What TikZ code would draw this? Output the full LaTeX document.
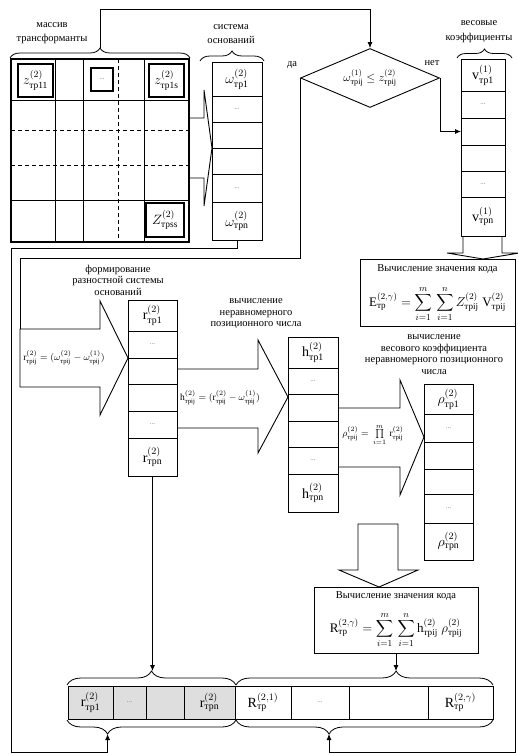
\RequirePackage{fix-cm}
\documentclass[tikz,border=0pt]{standalone}
\usepackage{amsmath}
\usepackage{fontspec}
\setmainfont{Liberation Serif}
\usetikzlibrary{arrows.meta,shapes.geometric,decorations.pathreplacing}
\newcommand\trs[1]{\text{тр#1}}
\newcommand\cdd{\textcolor{black!55}{\fontsize{7}{7}\selectfont...}}
\newcommand\cellnode[7][]{\node[cellbox,#1,minimum width={(#5-#3)*1pt},minimum height={(#6-#4)*1pt}] (#2) at ({(#3+#5)/2},{(#4+#6)/2}) {#7};}
\begin{document}
\begin{tikzpicture}[x=1pt,y=-1pt,line width=0.8pt,
  cellbox/.style={draw,inner sep=0pt,outer sep=0pt,line width=0.9pt,font=\fontsize{14}{14}\selectfont},
  smallbox/.style={draw,inner sep=0pt,line width=1.3pt,font=\fontsize{13.5}{13.5}\selectfont},
  lbl/.style={align=center,inner sep=0pt,font=\fontsize{10.5}{11.5}\selectfont},
  toplbl/.style={align=center,inner sep=0pt,font=\fontsize{10.5}{14.5}\selectfont},
  arr/.style={-{Latex[length=6pt,width=5pt]}},
  blockarrow/.style={draw,line width=0.9pt,line join=miter},
  brc/.style={decorate,decoration={brace,amplitude=#1}},
  mbrc/.style 2 args={decorate,decoration={brace,mirror,amplitude=#1,aspect=#2}},
  abrc/.style 2 args={decorate,decoration={brace,amplitude=#1,aspect=#2}},
  frm/.style={inner sep=0pt,font=\fontsize{9.5}{10}\selectfont},
  boxfrm/.style={inner sep=0pt,font=\fontsize{13}{13}\selectfont},
  gridline/.style={line width=0.8pt},
  griddash/.style={line width=0.8pt,dash pattern=on 4pt off 3pt},
]
\useasboundingbox (0,0) rectangle (517,754);

% ---------- grid (массив трансформанты)
\foreach \x in {55,83,144} \draw[gridline] (\x,59) -- (\x,242);
\draw[griddash] (118,59) -- (118,242);
\foreach \y in {100,200} \draw[gridline] (11,\y) -- (189,\y);
\foreach \y in {130,165} \draw[griddash] (11,\y) -- (189,\y);
\node[draw,line width=2.6pt,minimum width=178pt,minimum height=183pt,inner sep=0pt] (grid) at (100,150.5) {};
\node[smallbox,minimum width=35pt,minimum height=33pt] (z11) at (35.5,80.5) {$z^{(2)}_{\trs{11}}$};
\node[smallbox,minimum width=22pt,minimum height=23pt] (zdots) at (102,79.5) {\cdd};
\node[smallbox,minimum width=35pt,minimum height=33pt] (z1s) at (166.5,80.5) {$z^{(2)}_{\trs{1s}}$};
\node[smallbox,minimum width=38pt,minimum height=34pt] (zss) at (165,220) {$Z^{(2)}_{\trs{ss}}$};

\node[toplbl] (lmass) at (52,33) {массив\\трансформанты};
\node[toplbl] (lsys) at (231,34) {система\\оснований};
\node[toplbl] (lves) at (479,31.5) {весовые\\коэффициенты};

\draw[brc=10] (10,58) -- (190,58);
\coordinate (gtip) at (100,48);
\draw[brc=10] (200,61) -- (264,61);
\draw[brc=9] (457,58) -- (512,58);

% ---------- omega column
\cellnode{om1}{212}{62}{262}{96}{$\omega^{(2)}_{\trs{1}}$}
\cellnode{om2}{212}{96}{262}{122}{\cdd}
\cellnode{om3}{212}{122}{262}{148}{}
\cellnode{om4}{212}{148}{262}{174}{}
\cellnode{om5}{212}{174}{262}{202}{\cdd}
\cellnode{om6}{212}{202}{262}{240}{$\omega^{(2)}_{\trs{n}}$}

% block arrow grid -> omega
\draw[blockarrow] (189,118) -- (204,118) -- (204,90) -- (212,148) -- (204,206) -- (204,178) -- (189,178);

% ---------- diamond
\node[draw,diamond,aspect=2.3,minimum width=139pt,minimum height=59pt,inner sep=0pt,line width=0.9pt,font=\fontsize{11.5}{11.5}\selectfont] (dia) at (370,78) {$\omega^{(1)}_{\trs{ij}}\le z^{(2)}_{\trs{ij}}$};
\node[lbl] (da) at (292,65) {да};
\node[lbl] (net) at (432,63) {нет};

% ---------- V column
\cellnode{v1}{461}{59}{505}{91}{$\mathrm{v}^{(1)}_{\trs{1}}$}
\cellnode{v2}{461}{91}{505}{118}{\cdd}
\cellnode{v3}{461}{118}{505}{145}{}
\cellnode{v4}{461}{145}{505}{171}{}
\cellnode{v5}{461}{171}{505}{197}{\cdd}
\cellnode{v6}{461}{197}{505}{236}{$\mathrm{v}^{(1)}_{\trs{n}}$}

% block arrow V -> E box
\draw[blockarrow] (463,236) -- (463,253) -- (447,253) -- (483,259) -- (519,253) -- (502,253) -- (502,236);

% ---------- E box
\node[draw,minimum width=155pt,minimum height=67pt,inner sep=0pt,line width=0.9pt] (Ebox) at (437.5,292.5) {};
\node[lbl] (Etit) at (437.5,269) {Вычисление значения кода};
\node[boxfrm] (Efrm) at (437.5,304) {$\mathrm{E}^{(2,\gamma)}_{\trs{}} = \displaystyle\sum_{i=1}^{m}\,\sum_{i=1}^{n} Z^{(2)}_{\trs{ij}}\;\mathrm{V}^{(2)}_{\trs{ij}}$};

% ---------- r formation
\draw[blockarrow] (20,329) -- (100,329) -- (100,301) -- (128,358) -- (100,415) -- (100,387) -- (20,387) -- cycle;
\node[frm] (fr) at (64,358) {$\mathrm{r}^{(2)}_{\trs{ij}} = (\omega^{(2)}_{\trs{ij}} - \omega^{(1)}_{\trs{ij}})$};
\node[lbl] (lform) at (118,280) {формирование\\разностной системы\\оснований};

\cellnode{r1}{128}{300}{177}{331}{$\mathrm{r}^{(2)}_{\trs{1}}$}
\cellnode{r2}{128}{331}{177}{358}{\cdd}
\cellnode{r3}{128}{358}{177}{384}{}
\cellnode{r4}{128}{384}{177}{411}{}
\cellnode{r5}{128}{411}{177}{438}{\cdd}
\cellnode{r6}{128}{438}{177}{476}{$\mathrm{r}^{(2)}_{\trs{n}}$}

% ---------- h
\draw[blockarrow] (177,369) -- (258,369) -- (258,340) -- (288,397) -- (258,453) -- (258,428) -- (177,428);
\node[frm] (fh) at (220,398) {$\mathrm{h}^{(2)}_{\trs{ij}} = (\mathrm{r}^{(2)}_{\trs{ij}} - \omega^{(1)}_{\trs{ij}})$};
\node[lbl] (lhc) at (256,314) {вычисление\\неравномерного\\позиционного числа};

\cellnode{h1}{288}{337}{338}{368}{$\mathrm{h}^{(2)}_{\trs{1}}$}
\cellnode{h2}{288}{368}{338}{394}{\cdd}
\cellnode{h3}{288}{394}{338}{421}{}
\cellnode{h4}{288}{421}{338}{447}{}
\cellnode{h5}{288}{447}{338}{474}{\cdd}
\cellnode{h6}{288}{474}{338}{512}{$\mathrm{h}^{(2)}_{\trs{n}}$}

% ---------- rho
\draw[blockarrow] (338,408) -- (400,408) -- (400,380) -- (424,437) -- (400,495) -- (400,467) -- (338,467);
\node[frm] (fp) at (373,435) {$\rho^{(2)}_{\trs{ij}} =\, \prod\limits_{i=1}^{m}\,\mathrm{r}^{(2)}_{\trs{ij}}$};
\node[lbl] (lrho) at (434,354.5) {вычисление\\весового коэффициента\\неравномерного позиционного\\числа};

\cellnode{p1}{424}{384}{473}{414}{$\rho^{(2)}_{\trs{1}}$}
\cellnode{p2}{424}{414}{473}{442}{\cdd}
\cellnode{p3}{424}{442}{473}{469}{}
\cellnode{p4}{424}{469}{473}{494}{}
\cellnode{p5}{424}{494}{473}{523}{\cdd}
\cellnode{p6}{424}{523}{473}{560}{$\rho^{(2)}_{\trs{n}}$}

% block arrow rho -> R box
\draw[blockarrow] (358,570) -- (358,524) -- (398,524) -- (398,570) -- (418,570) -- (379,587) -- (339,570) -- cycle;

% ---------- R box
\node[draw,minimum width=164pt,minimum height=66pt,inner sep=0pt,line width=0.9pt] (Rbox) at (396,620) {};
\node[lbl] (Rtit) at (396,596) {Вычисление значения кода};
\node[boxfrm] (Rfrm) at (396,630) {$\mathrm{R}^{(2,\gamma)}_{\trs{}} = \displaystyle\sum_{i=1}^{m}\,\sum_{i=1}^{n} \mathrm{h}^{(2)}_{\trs{ij}}\;\rho^{(2)}_{\trs{ij}}$};

% ---------- bottom arrays
\cellnode[fill=black!13]{ra1}{68}{686}{113}{719}{$\mathrm{r}^{(2)}_{\trs{1}}$}
\cellnode[fill=black!13]{ra2}{113}{686}{146}{719}{\cdd}
\cellnode[fill=black!13]{ra3}{146}{686}{184}{719}{}
\cellnode[fill=black!13]{ra4}{184}{686}{235}{719}{$\mathrm{r}^{(2)}_{\trs{n}}$}
\cellnode{Ra1}{235}{686}{291}{719}{$\mathrm{R}^{(2,1)}_{\trs{}}$}
\cellnode{Ra2}{291}{686}{349}{719}{\cdd}
\cellnode{Ra3}{349}{686}{428}{719}{}
\cellnode{Ra4}{428}{686}{493}{719}{$\mathrm{R}^{(2,\gamma)}_{\trs{}}$}

\draw[brc=14] (67,685) -- (236,685);
\draw[mbrc={14}{0.24}] (67,720) -- (236,720);
\draw[abrc={14}{0.623}] (236,685) -- (493,685);
\draw[mbrc={14}{0.362}] (236,720) -- (493,720);
\coordinate (rtt) at (152.5,671);
\coordinate (rbt) at (107.6,734);
\coordinate (Rtt) at (396,671);
\coordinate (Rbt) at (329,734);

% ---------- connectors
\coordinate (c1) at (11,248);
\coordinate (c2) at (107.6,752);
\coordinate (c3) at (329,752);
\coordinate (c4) at (370,9);
\coordinate (c5) at (20,258);
\coordinate (bA1) at (20,329);

\draw[arr] (gtip) |- (c4) -- (dia.north);
\draw (dia.west) |- (c5) -- (bA1);
\draw[arr] (dia.east) |- (v3.west);
\draw[arr] (om6.south) |- (c1) |- (c2) -- (rbt);
\draw[arr] (Ebox.south east) |- (c3) -- (Rbt);
\draw[arr] (r6.south) -- (rtt);
\draw[arr] (Rbox.south) -- (Rtt);
\end{tikzpicture}
\end{document}
